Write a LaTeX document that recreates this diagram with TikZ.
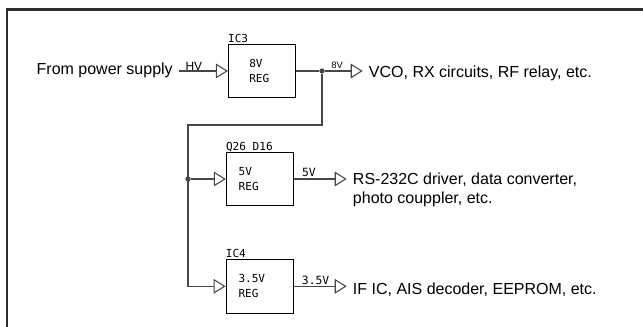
\documentclass[tikz,border=0pt]{standalone}
\usepackage{fontspec}
\setmainfont{Liberation Sans}
\newfontfamily\plotfont{DejaVu Sans Mono}
\usetikzlibrary{positioning, arrows.meta, calc}
\definecolor{cFrame}{HTML}{2E2E2E}
\definecolor{cWire}{HTML}{474747}
\tikzset{
  regbox/.style={
    draw=black, line width=0.6pt,
    minimum width=50.25pt,
    minimum height=40pt,
    inner sep=0pt,
    text width=31.5pt,
    align=left,
    font=\plotfont\fontsize{8.3}{11.25}\selectfont
  },
  tag/.style={
    inner sep=0pt,
    text depth=0pt,
    font=\plotfont\fontsize{8.3}{10}\selectfont
  },
  railtag/.style={
    inner sep=0pt,
    anchor=base west,
    font=\plotfont\fontsize{8.5}{10}\selectfont
  },
  sidetext/.style={
    inner xsep=4.5pt,
    inner ysep=0pt,
    align=left,
    font=\fontsize{12}{14.25}\selectfont
  },
  wire/.style={
    draw=cWire, line width=0.8pt
  },
  feed/.style={
    wire,
    -{Triangle[open, length=9pt, width=11pt]}
  },
  joint/.style={
    circle, fill=cWire, inner sep=0pt, minimum size=4pt
  },
  frame/.style={
    draw=cFrame, line width=2pt
  }
}

\begin{document}
\begin{tikzpicture}[x=0.75pt, y=-0.75pt]
  \useasboundingbox (0,0) rectangle (643,327);
  \draw[frame] (7,327) |- (643,9.5);

  \node[regbox, text width=18.75pt] (ic3) at (261.8,71) {8V\\REG};
  \node[regbox] (q26) at (259.7,179) {5V\\REG};
  \node[regbox] (ic4) at (259.5,286.3) {3.5V\\REG};

  \node[tag, above right=0.9pt and 0pt of ic3.north west] (ic3tag) {IC3};
  \node[tag, above right=0.9pt and 0pt of q26.north west] (q26tag) {Q26 D16};
  \node[tag, above right=0.8pt and 0pt of ic4.north west] (ic4tag) {IC4};

  \node[sidetext, anchor=north east] (src) at (179,63) {From power supply};
  \node[sidetext, anchor=north west] (vco) at (362.7,65.8) {VCO, RX circuits, RF relay, etc.};
  \node[sidetext, anchor=north west] (rs) at (346.7,172.5) {RS-232C driver, data converter,\\photo couppler, etc.};
  \node[sidetext, anchor=north west] (ific) at (346.7,282.5) {IF IC, AIS decoder, EEPROM, etc.};

  \node[joint] (j1) at (322,71) {};
  \coordinate (bend) at (188,125);
  \node[joint] (j2) at (bend |- q26) {};

  \draw[feed] (src.east |- ic3) -- node[at start, anchor=base west, inner sep=0pt, xshift=4.5pt, yshift=0.3pt, font=\fontsize{9}{10}\selectfont] {HV} (ic3.west);
  \draw[wire] (ic3.east) -- (j1);
  \draw[feed] (j1) -- node[at start, anchor=base west, inner sep=0pt, xshift=4.5pt, yshift=2.2pt, font=\fontsize{7}{8}\selectfont] {8V} (vco.west |- j1);
  \draw[feed] (j1) |- (bend) -- (bend |- ic4) -- (ic4.west);
  \draw[feed] (j2) -- (q26.west);
  \draw[feed] (q26.east) -- node[railtag, at start, xshift=6pt, yshift=1.6pt] {5V} (rs.west |- q26);
  \draw[feed] (ic4.east) -- node[railtag, at start, xshift=6pt, yshift=1.1pt] {3.5V} (ific.west |- ic4);
\end{tikzpicture}
\end{document}
